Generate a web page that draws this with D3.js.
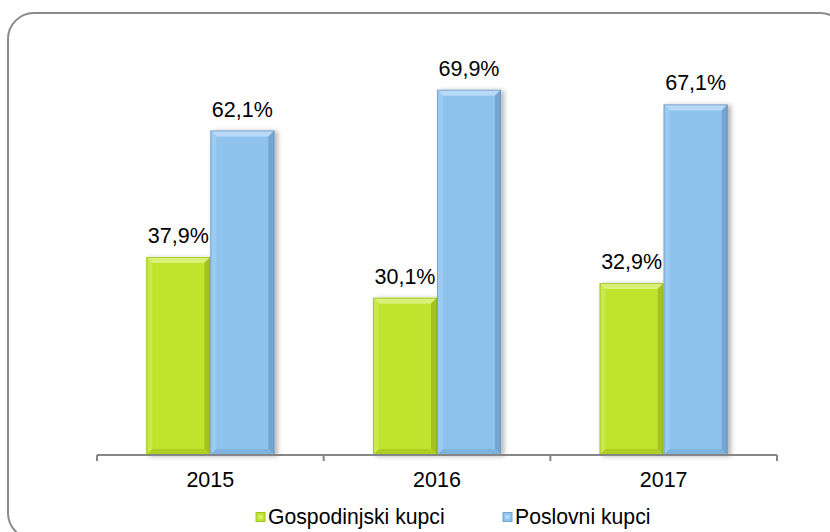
<!DOCTYPE html>
<html><head><meta charset="utf-8">
<script src="https://cdn.jsdelivr.net/npm/d3@7"></script>
<style>body{margin:0;background:#fff}svg{display:block}text{font-family:"Liberation Sans",Arial,sans-serif;fill:#000}</style>
</head><body>
<svg id="c" width="830" height="532"></svg>
<script>
const categories = ["2015", "2016", "2017"];
const seriesNames = ["Gospodinjski kupci", "Poslovni kupci"];
const household = [37.9, 30.1, 32.9];
const business = [62.1, 69.9, 67.1];
const valueLabels = [["37,9%", "30,1%", "32,9%"], ["62,1%", "69,9%", "67,1%"]];

const svg = d3.select("#c");
const m = {left: 97, right: 777, top: 37, bottom: 455};

svg.append("rect").attr("x", 8).attr("y", 13).attr("width", 838).attr("height", 526)
  .attr("rx", 26).attr("fill", "#fff").attr("stroke", "#8a8a8a").attr("stroke-width", 2);

const x0 = d3.scaleBand().domain(categories).range([m.left, m.right]).paddingInner(0).paddingOuter(0);
const x1 = d3.scaleBand().domain(seriesNames).range([0, x0.bandwidth()]).paddingInner(0).paddingOuter(0.77);
const y = d3.scaleLinear().domain([0, 80]).range([m.bottom, m.top]);

const palettes = [
  {face: "#c0e42e", top: "#d9f176", left: "#c9e84a", right: "#a3c41e", bottom: "#aecf24", edge: "#8fae1a"},
  {face: "#8ec3ee", top: "#b8daf6", left: "#9ccbf1", right: "#74a4d0", bottom: "#80b2de", edge: "#6b8eb0"}
];

const defs = svg.append("defs");
const f = defs.append("filter").attr("id", "sh").attr("x", "-20%").attr("y", "-10%").attr("width", "150%").attr("height", "120%");
f.append("feGaussianBlur").attr("in", "SourceAlpha").attr("stdDeviation", 2.5);
f.append("feOffset").attr("dx", 3).attr("dy", 1).attr("result", "b");
f.append("feComponentTransfer").append("feFuncA").attr("type", "linear").attr("slope", 0.3);
const mg = f.append("feMerge"); mg.append("feMergeNode"); mg.append("feMergeNode").attr("in", "SourceGraphic");

const data = [household, business];
const bev = 6;
categories.forEach((c, i) => {
  data.forEach((arr, s) => {
    const v = arr[i];
    const bx = x0(c) + x1(seriesNames[s]);
    const bw = x1.bandwidth();
    const by = y(v), bh = y(0) - y(v);
    const p = palettes[s];
    const g = svg.append("g").attr("filter", "url(#sh)");
    g.append("rect").attr("x", bx).attr("y", by).attr("width", bw).attr("height", bh).attr("fill", p.face);
    const x1p = bx, x2p = bx + bw, y1p = by, y2p = by + bh;
    g.append("polygon").attr("points", [[x1p,y1p],[x2p,y1p],[x2p-bev,y1p+bev],[x1p+bev,y1p+bev]].join(" ")).attr("fill", p.top);
    g.append("polygon").attr("points", [[x1p,y1p],[x1p+bev,y1p+bev],[x1p+bev,y2p-bev],[x1p,y2p]].join(" ")).attr("fill", p.left);
    g.append("polygon").attr("points", [[x2p,y1p],[x2p,y2p],[x2p-bev,y2p-bev],[x2p-bev,y1p+bev]].join(" ")).attr("fill", p.right);
    g.append("polygon").attr("points", [[x1p,y2p],[x1p+bev,y2p-bev],[x2p-bev,y2p-bev],[x2p,y2p]].join(" ")).attr("fill", p.bottom);
    g.append("rect").attr("x", bx + 0.5).attr("y", by + 0.5).attr("width", bw - 1).attr("height", bh - 1)
      .attr("fill", "none").attr("stroke", p.edge).attr("stroke-width", 1).attr("stroke-opacity", 0.6);
    svg.append("text").attr("x", bx + bw / 2).attr("y", by - 14).attr("text-anchor", "middle")
      .attr("font-size", 21.5).text(valueLabels[s][i]);
  });
});

const axis = svg.append("g").attr("transform", `translate(0,${m.bottom})`);
axis.append("line").attr("x1", m.left).attr("x2", m.right).attr("y1", 0).attr("y2", 0).attr("stroke", "#868686").attr("stroke-width", 2);
const tickPos = categories.map(c => x0(c)).concat([x0(categories[categories.length - 1]) + x0.bandwidth()]);
axis.selectAll("line.t").data(tickPos).enter().append("line").attr("class", "t")
  .attr("x1", d => d).attr("x2", d => d).attr("y1", 0).attr("y2", 6).attr("stroke", "#868686").attr("stroke-width", 2);
axis.selectAll("text").data(categories).enter().append("text")
  .attr("x", d => x0(d) + x0.bandwidth() / 2).attr("y", 32).attr("text-anchor", "middle").attr("font-size", 21.5).text(d => d);

const legX = [256, 503];
seriesNames.forEach((n, s) => {
  const p = palettes[s];
  const g = svg.append("g");
  g.append("rect").attr("x", legX[s]).attr("y", 512.5).attr("width", 9).attr("height", 9).attr("fill", p.face).attr("stroke", p.right).attr("stroke-width", 1);
  g.append("rect").attr("x", legX[s] + 2.5).attr("y", 515).attr("width", 4).attr("height", 4).attr("fill", p.top);
  g.append("text").attr("x", legX[s] + 12).attr("y", 524).attr("font-size", 21.2).text(n);
});
</script>
</body></html>
